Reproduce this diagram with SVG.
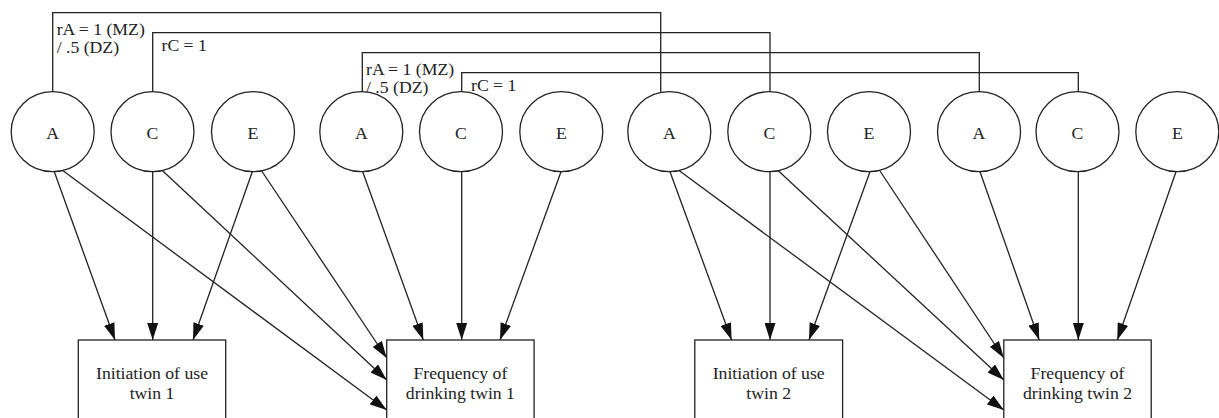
<svg xmlns="http://www.w3.org/2000/svg" width="1219" height="418" viewBox="0 0 1219 418">
<style>
  .node ellipse, .node rect { fill: #fff; stroke: #222; stroke-width: 1.3; }
  .lbl { font-family: "Liberation Serif", "Times New Roman", serif; font-size: 17.7px; fill: #222; }
  .mid { text-anchor: middle; }
  .edge { fill: none; stroke: #222; stroke-width: 1.3; }
  .arr { marker-end: url(#ah); }
</style>
<defs>
  <marker id="ah" markerUnits="userSpaceOnUse" markerWidth="17" markerHeight="11" refX="17" refY="5.5" orient="auto" viewBox="0 0 17 11">
    <path d="M0,0 L17,5.5 L0,11 Z" fill="#111"/>
  </marker>
</defs>
<rect width="1219" height="418" fill="#fff"/>

<g id="connectors">
  <polyline class="edge" points="52.7,91.7 52.7,12.7 660.7,12.7 660.7,91.7"/>
  <polyline class="edge" points="152.7,91.7 152.7,32.7 770,32.7 770,91.7"/>
  <polyline class="edge" points="362.3,91.7 362.3,52.7 979.3,52.7 979.3,91.7"/>
  <polyline class="edge" points="461.7,91.7 461.7,72.7 1078.3,72.7 1078.3,91.7"/>
  <line class="edge arr" x1="54.3" y1="171.7" x2="115" y2="340"/>
  <line class="edge arr" x1="62.7" y1="170.5" x2="386.7" y2="410"/>
  <line class="edge arr" x1="152.7" y1="171.7" x2="152.7" y2="340"/>
  <line class="edge arr" x1="162.3" y1="170.5" x2="386.7" y2="380"/>
  <line class="edge arr" x1="252.3" y1="171.7" x2="193" y2="340"/>
  <line class="edge arr" x1="261.7" y1="171" x2="386.7" y2="358"/>
  <line class="edge arr" x1="362.7" y1="171.7" x2="423.3" y2="340"/>
  <line class="edge arr" x1="461.7" y1="171.7" x2="461.7" y2="340"/>
  <line class="edge arr" x1="561" y1="171.7" x2="500" y2="340"/>
  <line class="edge arr" x1="670" y1="171.7" x2="731.6" y2="340"/>
  <line class="edge arr" x1="679" y1="170.5" x2="1003.8" y2="410"/>
  <line class="edge arr" x1="770" y1="171.7" x2="770" y2="340"/>
  <line class="edge arr" x1="778.3" y1="170.8" x2="1003.8" y2="380"/>
  <line class="edge arr" x1="870" y1="171.7" x2="809" y2="340"/>
  <line class="edge arr" x1="880" y1="171" x2="1003.8" y2="358"/>
  <line class="edge arr" x1="980" y1="171.7" x2="1039.2" y2="340"/>
  <line class="edge arr" x1="1078.3" y1="171.7" x2="1078.3" y2="340"/>
  <line class="edge arr" x1="1176" y1="171.7" x2="1117.3" y2="340"/>
  <text class="lbl" x="56.7" y="35">rA = 1 (MZ)</text>
  <text class="lbl" x="56.7" y="53.3">/ .5 (DZ)</text>
  <text class="lbl" x="161.5" y="50.7">rC = 1</text>
  <text class="lbl" x="366" y="75">rA = 1 (MZ)</text>
  <text class="lbl" x="366" y="93.3">/ .5 (DZ)</text>
  <text class="lbl" x="471" y="90.7">rC = 1</text>
</g>

<g id="A1" class="node"><ellipse cx="52.7" cy="131.7" rx="41.5" ry="40"/><text class="lbl mid" x="52.7" y="139.3">A</text></g>
<g id="C1" class="node"><ellipse cx="152.5" cy="131.7" rx="41.5" ry="40"/><text class="lbl mid" x="152.5" y="139.3">C</text></g>
<g id="E1" class="node"><ellipse cx="253" cy="131.7" rx="41.5" ry="40"/><text class="lbl mid" x="253" y="139.3">E</text></g>
<g id="A2" class="node"><ellipse cx="361.3" cy="131.7" rx="41.5" ry="40"/><text class="lbl mid" x="361.3" y="139.3">A</text></g>
<g id="C2" class="node"><ellipse cx="461" cy="131.7" rx="41.5" ry="40"/><text class="lbl mid" x="461" y="139.3">C</text></g>
<g id="E2" class="node"><ellipse cx="561.3" cy="131.7" rx="41.5" ry="40"/><text class="lbl mid" x="561.3" y="139.3">E</text></g>
<g id="A3" class="node"><ellipse cx="669.3" cy="131.7" rx="41.5" ry="40"/><text class="lbl mid" x="669.3" y="139.3">A</text></g>
<g id="C3" class="node"><ellipse cx="769.3" cy="131.7" rx="41.5" ry="40"/><text class="lbl mid" x="769.3" y="139.3">C</text></g>
<g id="E3" class="node"><ellipse cx="869" cy="131.7" rx="41.5" ry="40"/><text class="lbl mid" x="869" y="139.3">E</text></g>
<g id="A4" class="node"><ellipse cx="979" cy="131.7" rx="41.5" ry="40"/><text class="lbl mid" x="979" y="139.3">A</text></g>
<g id="C4" class="node"><ellipse cx="1077.5" cy="131.7" rx="41.5" ry="40"/><text class="lbl mid" x="1077.5" y="139.3">C</text></g>
<g id="E4" class="node"><ellipse cx="1177.3" cy="131.7" rx="41.5" ry="40"/><text class="lbl mid" x="1177.3" y="139.3">E</text></g>

<g id="init1" class="node"><rect x="78.3" y="340" width="147.4" height="100"/><text class="lbl mid" x="152" y="379.3">Initiation of use</text><text class="lbl mid" x="152" y="399.3">twin 1</text></g>
<g id="freq1" class="node"><rect x="386.7" y="340" width="147.4" height="100"/><text class="lbl mid" x="460.4" y="379.3">Frequency of</text><text class="lbl mid" x="460.4" y="399.3">drinking twin 1</text></g>
<g id="init2" class="node"><rect x="694.8" y="340" width="147.8" height="100"/><text class="lbl mid" x="768.7" y="379.3">Initiation of use</text><text class="lbl mid" x="768.7" y="399.3">twin 2</text></g>
<g id="freq2" class="node"><rect x="1003.8" y="340" width="147.4" height="100"/><text class="lbl mid" x="1077.5" y="379.3">Frequency of</text><text class="lbl mid" x="1077.5" y="399.3">drinking twin 2</text></g>
</svg>
